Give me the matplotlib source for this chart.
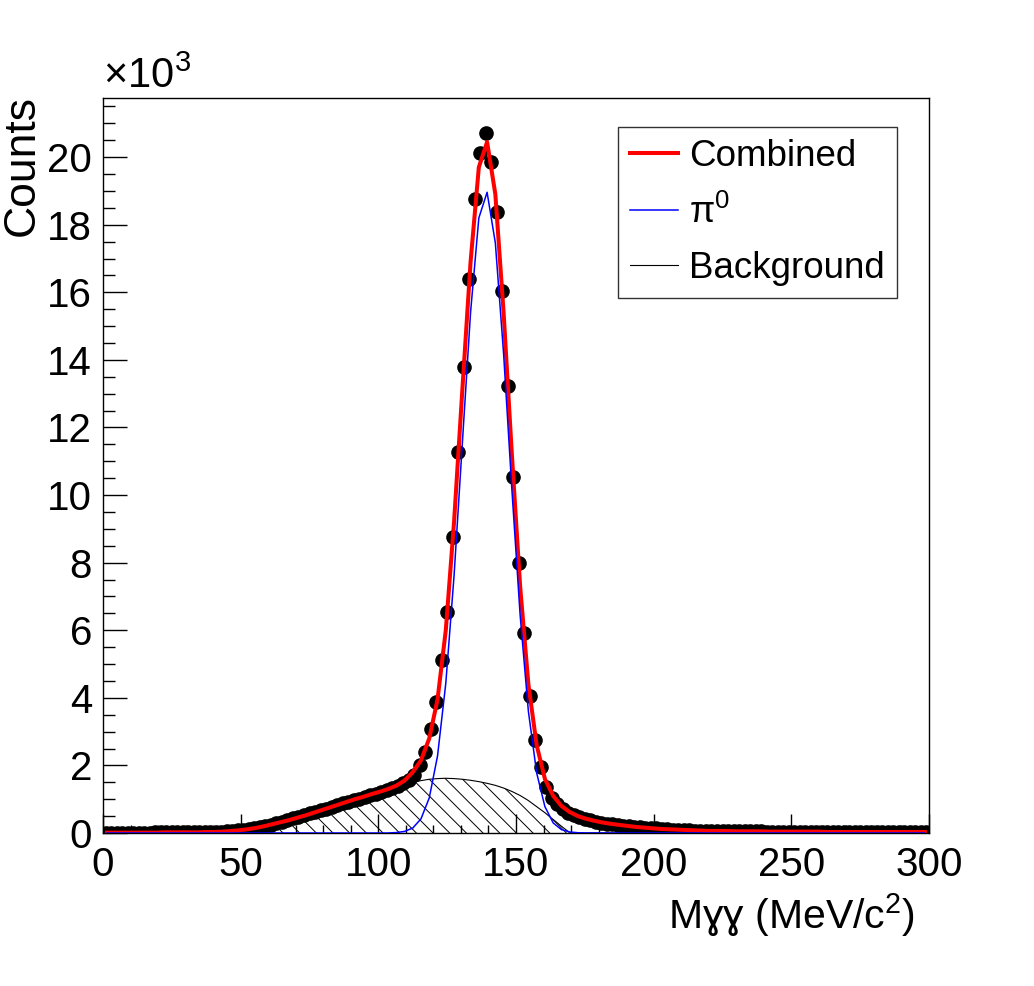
import numpy as np
import matplotlib
matplotlib.use("Agg")
import matplotlib.pyplot as plt
from matplotlib.lines import Line2D

plt.rcParams['font.family'] = ['Liberation Sans', 'DejaVu Sans']
plt.rcParams['mathtext.fontset'] = 'custom'
plt.rcParams['mathtext.rm'] = 'Liberation Sans'
plt.rcParams['mathtext.it'] = 'Liberation Sans:italic'
plt.rcParams['mathtext.bf'] = 'Liberation Sans:bold'
plt.rcParams['hatch.linewidth'] = 0.7

# ---------------- data (counts in units of 10^3) ----------------
bin_width = 2.0
bin_centers = np.arange(1, 300, 2)  # 150 bins of 2 MeV
counts = [
    0.01, 0.01, 0.01, 0.01, 0.01, 0.01, 0.01, 0.01, 0.01, 0.02,   # 1-19
    0.02, 0.02, 0.02, 0.02, 0.02, 0.02, 0.03, 0.03, 0.03, 0.03,   # 21-39
    0.04, 0.04, 0.05, 0.07, 0.08, 0.10, 0.12, 0.15, 0.18, 0.21,   # 41-59
    0.25, 0.29, 0.33, 0.38, 0.44, 0.47, 0.52, 0.58, 0.62, 0.67,   # 61-79
    0.72, 0.78, 0.83, 0.88, 0.93, 0.97, 1.02, 1.06, 1.12, 1.15,   # 81-99
    1.20, 1.26, 1.33, 1.38, 1.48, 1.58, 1.72, 2.01, 2.40, 3.08,   # 101-119
    3.88, 5.12, 6.54, 8.76, 11.27, 13.79, 16.39, 18.76, 20.12, 20.71,  # 121-139
    19.85, 18.37, 16.04, 13.22, 10.53, 7.99, 5.92, 4.05, 2.75, 1.95,  # 141-159
    1.36, 1.04, 0.85, 0.70, 0.60, 0.52, 0.46, 0.41, 0.37, 0.34,   # 161-179
    0.31, 0.28, 0.26, 0.24, 0.22, 0.21, 0.19, 0.17, 0.16, 0.15,   # 181-199
    0.14, 0.12, 0.11, 0.10, 0.09, 0.09, 0.08, 0.07, 0.07, 0.06,   # 201-219
    0.06, 0.06, 0.06, 0.05, 0.05, 0.05, 0.05, 0.05, 0.05, 0.05,   # 221-239
    0.04, 0.04, 0.04, 0.04, 0.04, 0.04, 0.04, 0.04, 0.04, 0.04,   # 241-259
    0.04, 0.03, 0.03, 0.03, 0.03, 0.03, 0.03, 0.03, 0.03, 0.03,   # 261-279
    0.03, 0.03, 0.03, 0.03, 0.03, 0.03, 0.03, 0.03, 0.03, 0.03,   # 281-299
]

# fit curves sampled every 3 MeV
curve_x = np.arange(1.5, 300, 3.0)  # 100 samples
combined = [
    0.01, 0.01, 0.01, 0.01, 0.01, 0.01, 0.01, 0.02, 0.02, 0.02,   # 1.5-28.5
    0.02, 0.02, 0.03, 0.03, 0.04, 0.06, 0.08, 0.11, 0.15, 0.20,   # 31.5-58.5
    0.26, 0.32, 0.38, 0.45, 0.52, 0.60, 0.68, 0.76, 0.84, 0.92,   # 61.5-88.5
    1.00, 1.07, 1.15, 1.22, 1.30, 1.40, 1.55, 1.80, 2.15, 2.80,   # 91.5-118.5
    3.95, 6.00, 9.20, 13.10, 16.90, 19.70, 20.45, 18.90, 15.40, 11.20,  # 121.5-148.5
    7.30, 4.40, 2.60, 1.60, 1.10, 0.80, 0.62, 0.50, 0.42, 0.36,   # 151.5-178.5
    0.31, 0.27, 0.24, 0.21, 0.18, 0.16, 0.14, 0.12, 0.11, 0.10,   # 181.5-208.5
    0.09, 0.08, 0.07, 0.06, 0.06, 0.06, 0.05, 0.05, 0.05, 0.05,   # 211.5-238.5
    0.04, 0.04, 0.04, 0.04, 0.04, 0.04, 0.04, 0.03, 0.03, 0.03,   # 241.5-268.5
    0.03, 0.03, 0.03, 0.03, 0.03, 0.03, 0.03, 0.03, 0.03, 0.03,   # 271.5-298.5
]
pi0 = [
    0, 0, 0, 0, 0, 0, 0, 0, 0, 0,
    0, 0, 0, 0, 0, 0, 0, 0, 0, 0,
    0, 0, 0, 0, 0, 0, 0, 0, 0, 0,
    0, 0, 0, 0, 0, 0.013, 0.046, 0.147, 0.42, 1.04,             # 91.5-118.5
    2.28, 4.43, 7.61, 11.52, 15.41, 18.20, 18.96, 17.46, 14.18, 10.17,  # 121.5-148.5
    6.45, 3.60, 1.78, 0.78, 0.30, 0.10, 0.03, 0.008, 0, 0,        # 151.5-178.5
    0, 0, 0, 0, 0, 0, 0, 0, 0, 0,
    0, 0, 0, 0, 0, 0, 0, 0, 0, 0,
    0, 0, 0, 0, 0, 0, 0, 0, 0, 0,
    0, 0, 0, 0, 0, 0, 0, 0, 0, 0,
]
background = [
    0, 0, 0, 0, 0, 0, 0, 0, 0, 0,
    0, 0, 0, 0, 0, 0.02, 0.05, 0.08, 0.12, 0.18,                  # 46.5-58.5
    0.24, 0.31, 0.38, 0.45, 0.52, 0.60, 0.68, 0.76, 0.84, 0.92,   # 61.5-88.5
    1.00, 1.07, 1.15, 1.22, 1.29, 1.36, 1.43, 1.50, 1.55, 1.59,   # 91.5-118.5
    1.61, 1.62, 1.61, 1.59, 1.56, 1.52, 1.47, 1.41, 1.33, 1.23,   # 121.5-148.5
    1.11, 0.96, 0.78, 0.60, 0.40, 0.20, 0.01, 0, 0, 0,            # 151.5-178.5
    0, 0, 0, 0, 0, 0, 0, 0, 0, 0,
    0, 0, 0, 0, 0, 0, 0, 0, 0, 0,
    0, 0, 0, 0, 0, 0, 0, 0, 0, 0,
    0, 0, 0, 0, 0, 0, 0, 0, 0, 0,
]

x_ticks = [0, 50, 100, 150, 200, 250, 300]
y_ticks = [0, 2, 4, 6, 8, 10, 12, 14, 16, 18, 20]

# ---------------- figure ----------------
W, H = 1034, 986
fig = plt.figure(figsize=(W / 100, H / 100), dpi=100)
ax = fig.add_axes([103 / W, 1 - 833 / H, (929 - 103) / W, (833 - 98) / H])

bg = np.array(background)
ax.fill_between(curve_x, 0, bg, where=bg > 0, facecolor='none', edgecolor='black',
                hatch='\\\\', linewidth=0, zorder=1)
ax.plot(bin_centers, counts, 'o', color='black', markersize=9.5, zorder=2)
ax.plot(curve_x, background, color='black', lw=0.8, zorder=3)
ax.plot(curve_x, combined, color='#ff0000', lw=2.9, zorder=4)
ax.plot(curve_x, pi0, color='#0000ff', lw=1.1, zorder=5)

ax.set_xlim(0, 300)
ax.set_ylim(0, 21.75)
ax.set_xticks(x_ticks)
ax.set_xticks(np.arange(0, 301, 10), minor=True)
ax.set_yticks(y_ticks)
ax.set_yticks(np.arange(0, 21.75, 0.5), minor=True)
ax.set_xticklabels([str(v) for v in x_ticks])
ax.set_yticklabels([str(v) for v in y_ticks])

ax.tick_params(axis='both', which='both', direction='in', top=False, right=False,
               labelsize=29, width=1.0, color='black')
ax.tick_params(axis='x', which='major', length=14, pad=9)
ax.tick_params(axis='x', which='minor', length=6)
ax.tick_params(axis='y', which='major', length=17, pad=8)
ax.tick_params(axis='y', which='minor', length=8.5)
for s in ax.spines.values():
    s.set_linewidth(1.0)

fig.text(103 / W, 1 - 97 / H, r"×10$^{3}$", fontsize=30, ha='left', va='bottom')
fig.text(22 / W, 1 - 95 / H, "Counts", fontsize=32, rotation=90, ha='center', va='top')
fig.text(915 / W, 1 - 915 / H, "Mɣɣ (MeV/c$^{2}$)",
         fontsize=29.5, ha='right', va='center')

handles = [Line2D([], [], color='#ff0000', lw=2.9),
           Line2D([], [], color='#0000ff', lw=1.1),
           Line2D([], [], color='black', lw=0.8)]
labels = ["Combined", r"$\mathrm{\pi}^{0}$", "Background"]
leg = fig.legend(handles, labels, loc='upper left',
                 bbox_to_anchor=(618 / W, 1 - 127 / H), fontsize=26.5,
                 frameon=True, fancybox=False, shadow=False, borderpad=0.33,
                 handlelength=1.3, handletextpad=0.3, labelspacing=0.55,
                 borderaxespad=0)
leg.get_frame().set_edgecolor('black')
leg.get_frame().set_linewidth(1.0)

fig.savefig("out.png", dpi=100)
